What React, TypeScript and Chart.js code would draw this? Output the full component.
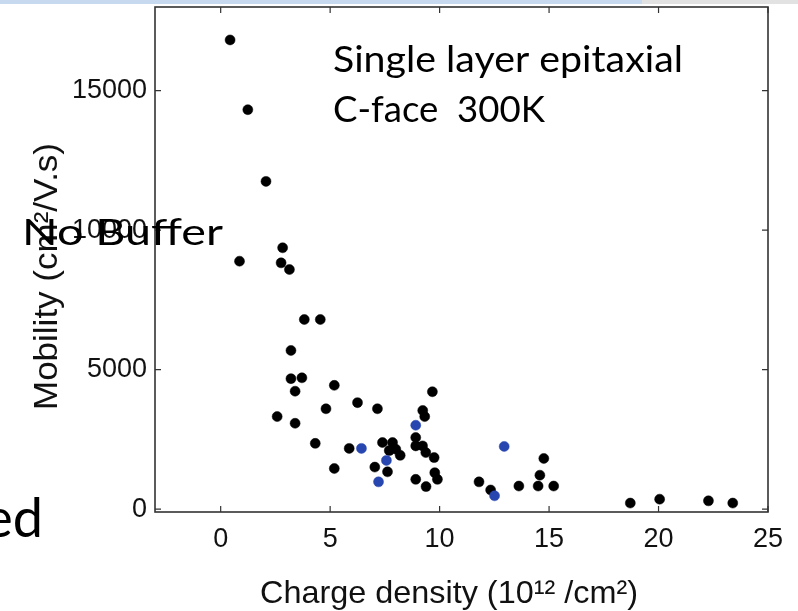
import React, { useEffect, useRef } from "react";
import { Chart, registerables } from "chart.js";

Chart.register(...registerables);

// ---- data ----
const xTickValues = [0, 5, 10, 15, 20, 25];
const yTickValues = [0, 5000, 10000, 15000];

const blackX = [
  0.43, 1.24, 2.07, 0.86, 2.83, 2.76, 3.14, 3.82, 4.55, 3.21, 3.21, 3.71, 3.4, 5.19, 2.58, 3.4,
  4.81, 6.25, 7.16, 4.32, 5.19, 5.87, 7.39, 7.85, 8.0, 8.2, 7.7, 7.04, 7.62, 9.67, 9.32, 9.23,
  8.91, 8.91, 9.22, 9.37, 9.75, 9.78, 9.9, 8.91, 9.38, 11.8, 12.33, 13.62, 14.76, 14.58, 14.5,
  15.21, 18.71, 20.05, 22.28, 23.39,
];
const blackY = [
  16820, 14320, 11750, 8890, 9370, 8830, 8590, 6800, 6800, 5690, 4680, 4710, 4230, 4440, 3320, 3080,
  3600, 3820, 3600, 2360, 1460, 2180, 2390, 2390, 2150, 1930, 2100, 1510, 1340, 4210, 3320, 3540,
  2570, 2270, 2270, 2030, 1850, 1310, 1070, 1070, 810, 980, 690, 830, 1820, 1220, 830,
  830, 220, 360, 300, 220,
];
const blueX = [6.43, 7.57, 7.21, 8.91, 12.95, 12.51];
const blueY = [2180, 1750, 980, 3010, 2250, 480];

const xTitle = "Charge density (10¹² /cm²)";
const yTitle = "Mobility (cm²/V.s)";
const noteLine1 = "Single layer epitaxial";
const noteLine2 = "C-face  300K";
const sideNote = "No Buffer";
const cutNote = "ed";

const AXIS_FONT = "'Liberation Sans', Arial, sans-serif";
const NOTE_FONT = "Lato, 'Open Sans', sans-serif";

function drawFitted(
  ctx: CanvasRenderingContext2D,
  text: string,
  x: number,
  baseline: number,
  size: number,
  width: number,
  family: string,
  color: string,
  rotate = 0
) {
  ctx.save();
  ctx.font = `${size}px ${family}`;
  ctx.textAlign = "left";
  ctx.textBaseline = "alphabetic";
  const w = ctx.measureText(text).width;
  const sx = w > 0 ? width / w : 1;
  ctx.translate(x, baseline);
  if (rotate) ctx.rotate(rotate);
  ctx.scale(sx, 1);
  ctx.fillStyle = color;
  ctx.fillText(text, 0, 0);
  ctx.restore();
}

const framePlugin = {
  id: "frameTicks",
  beforeDraw(chart: any) {
    const { ctx, width } = chart;
    ctx.save();
    ctx.fillStyle = "#c7d9ef";
    ctx.fillRect(0, 0, 642, 4);
    ctx.fillStyle = "#e2e2e2";
    ctx.fillRect(642, 0, width - 642, 4);
    ctx.restore();
  },
  afterDraw(chart: any) {
    const { ctx, chartArea: a, scales } = chart;
    ctx.save();
    ctx.strokeStyle = "#333";
    ctx.lineWidth = 1.6;
    ctx.strokeRect(a.left, a.top, a.right - a.left, a.bottom - a.top);
    const L = 6;
    ctx.lineWidth = 1.2;
    ctx.beginPath();
    for (const v of xTickValues) {
      const px = scales.x.getPixelForValue(v);
      ctx.moveTo(px, a.bottom);
      ctx.lineTo(px, a.bottom - L);
      ctx.moveTo(px, a.top);
      ctx.lineTo(px, a.top + L);
    }
    for (const v of yTickValues) {
      const py = scales.y.getPixelForValue(v);
      ctx.moveTo(a.left, py);
      ctx.lineTo(a.left + L, py);
      ctx.moveTo(a.right, py);
      ctx.lineTo(a.right - L, py);
    }
    ctx.stroke();
    ctx.restore();

    // axis titles
    drawFitted(ctx, xTitle, 260, 603, 32, 378, AXIS_FONT, "#111");
    drawFitted(ctx, yTitle, 57, 410, 33, 267, AXIS_FONT, "#111", -Math.PI / 2);

    // slide annotations
    drawFitted(ctx, noteLine1, 333, 72, 36, 350, NOTE_FONT, "#000");
    drawFitted(ctx, noteLine2, 333, 122, 36, 212, NOTE_FONT, "#000");
    drawFitted(ctx, sideNote, 22, 245, 36, 201, NOTE_FONT, "#000");
    ctx.save();
    ctx.font = `54px ${NOTE_FONT}`;
    ctx.textAlign = "right";
    ctx.textBaseline = "alphabetic";
    ctx.fillStyle = "#000";
    ctx.fillText(cutNote, 43, 537);
    ctx.restore();
  },
};

export default function App() {
  const ref = useRef<HTMLCanvasElement | null>(null);
  useEffect(() => {
    if (!ref.current) return;
    const chart = new Chart(ref.current, {
      type: "scatter",
      data: {
        datasets: [
          {
            label: "blue",
            data: blueX.map((x, i) => ({ x, y: blueY[i] })),
            backgroundColor: "#2846b0",
            borderColor: "#2846b0",
            pointRadius: 5,
            borderWidth: 0.5,
          },
          {
            label: "black",
            data: blackX.map((x, i) => ({ x, y: blackY[i] })),
            backgroundColor: "#000",
            borderColor: "#000",
            pointRadius: 5,
            borderWidth: 0.5,
          },
        ],
      },
      options: {
        responsive: false,
        animation: false,
        layout: { padding: { top: 7, right: 30, left: 0, bottom: 0 } },
        plugins: { legend: { display: false }, tooltip: { enabled: false } },
        scales: {
          x: {
            type: "linear",
            min: -3,
            max: 25,
            grid: { display: false },
            border: { display: false },
            afterBuildTicks: (s: any) => {
              s.ticks = xTickValues.map((v) => ({ value: v }));
            },
            afterFit: (s: any) => {
              s.height = 99;
              s.paddingLeft = 0;
              s.paddingRight = 0;
            },
            ticks: {
              font: { family: AXIS_FONT, size: 27 },
              color: "#111",
              padding: 3,
              maxRotation: 0,
              autoSkip: false,
              callback: (v: any) => String(v),
            },
            title: { display: false },
          },
          y: {
            type: "linear",
            min: -100,
            max: 18000,
            grid: { display: false },
            border: { display: false },
            afterBuildTicks: (s: any) => {
              s.ticks = yTickValues.map((v) => ({ value: v }));
            },
            afterFit: (s: any) => {
              s.width = 155;
              s.paddingTop = 0;
              s.paddingBottom = 0;
            },
            ticks: {
              font: { family: AXIS_FONT, size: 27 },
              color: "#111",
              padding: 0,
              autoSkip: false,
              callback: (v: any) => String(v),
            },
            title: { display: false },
          },
        },
      },
      plugins: [framePlugin],
    });
    return () => chart.destroy();
  }, []);
  return (
    <div style={{ position: "absolute", left: 0, top: 0, width: 798, height: 611, background: "#fff" }}>
      <canvas ref={ref} width={798} height={611} style={{ display: "block" }} />
    </div>
  );
}
